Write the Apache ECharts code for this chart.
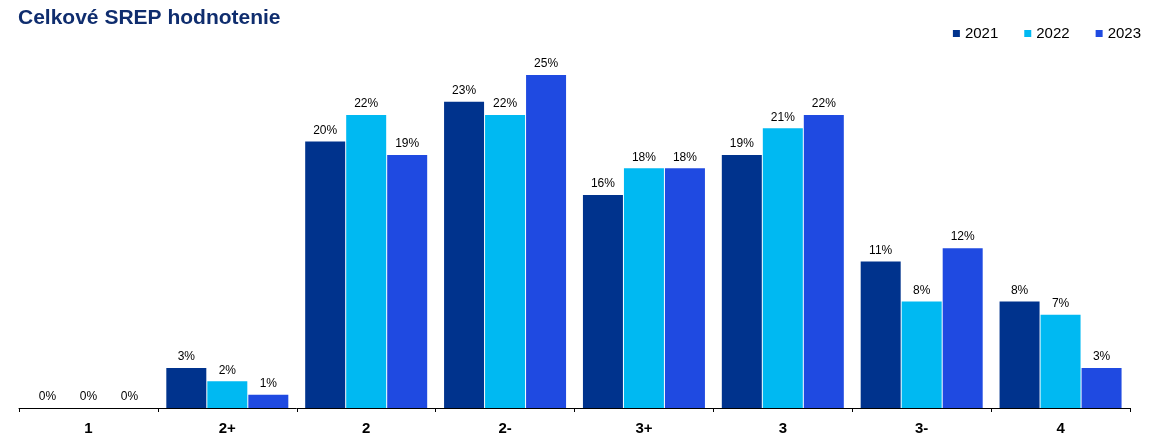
<!DOCTYPE html>
<html>
<head>
<meta charset="utf-8">
<script src="https://cdn.jsdelivr.net/npm/echarts@6/dist/echarts.min.js"></script>
<style>
html,body{margin:0;padding:0;background:#fff;}
#chart{width:1160px;height:444px;}
</style>
</head>
<body>
<div id="chart"></div>
<script>
const categories = ['1', '2+', '2', '2-', '3+', '3', '3-', '4'];
const seriesNames = ['2021', '2022', '2023'];
const values2021 = [0, 3, 20, 23, 16, 19, 11, 8];
const values2022 = [0, 2, 22, 22, 18, 21, 8, 7];
const values2023 = [0, 1, 19, 25, 18, 22, 12, 3];
const colors = ['#00338D', '#00B9F2', '#1F4AE1'];

const allValues = [values2021, values2022, values2023];
const chart = echarts.init(document.getElementById('chart'), null, {renderer: 'canvas'});
const font = 'Liberation Sans, Arial, sans-serif';

chart.setOption({
  animation: false,
  textStyle: {fontFamily: font},
  title: {
    text: 'Celkové SREP hodnotenie',
    left: 13,
    top: 3,
    textStyle: {fontFamily: font, fontSize: 21, fontWeight: 'bold', color: '#0F2D6E'}
  },
  legend: {
    right: 14,
    top: 21,
    itemWidth: 7,
    itemHeight: 7,
    itemGap: 26,
    icon: 'rect',
    textStyle: {fontFamily: font, fontSize: 15, color: '#000'},
    data: seriesNames
  },
  grid: {left: 19, right: 30, top: 75, bottom: 36, containLabel: false},
  xAxis: {
    type: 'category',
    data: categories,
    axisLine: {lineStyle: {color: '#000', width: 1}},
    axisTick: {show: true, length: 4, lineStyle: {color: '#000'}},
    axisLabel: {fontFamily: font, fontSize: 15, fontWeight: 'bold', color: '#000', margin: 13}
  },
  yAxis: {
    type: 'value',
    min: 0,
    max: 25,
    show: false,
    splitLine: {show: false}
  },
  series: seriesNames.map((name, i) => ({
    name: name,
    type: 'bar',
    data: allValues[i],
    barWidth: 40,
    barGap: '2.5%',
    itemStyle: {color: colors[i]},
    label: {
      show: true,
      position: 'top',
      distance: 5,
      formatter: '{c}%',
      fontFamily: font,
      fontSize: 12,
      color: '#000'
    }
  }))
});
</script>
</body>
</html>
